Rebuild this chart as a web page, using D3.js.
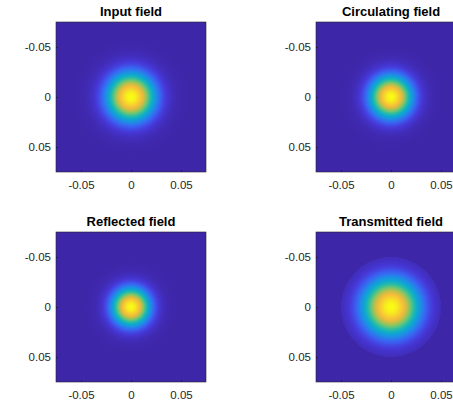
<!DOCTYPE html>
<html lang="en">

<head>
    <meta charset="UTF-8">
    <title>Fields</title>
    <style>
        body {
            margin: 0;
            background: #fff;
        }

        .tick text {
            font: 11.5px "Liberation Sans", Arial, sans-serif;
            fill: #262626;
        }

        .title {
            font: bold 13px "Liberation Sans", Arial, sans-serif;
            fill: #000;
            text-anchor: middle;
        }
    </style>
</head>

<body>
    <script src="https://d3js.org/d3.v7.min.js"></script>
    <script>
        // panel data (beam waist and aperture radius)
        const panelTitles = ["Input field", "Circulating field", "Reflected field", "Transmitted field"];
        const beamWaist = [0.033, 0.029, 0.026, 0.039];
        const apertureRadius = [0.1, 0.1, 0.1, 0.05];
        const axisExtent = [-0.075, 0.075];
        const tickValues = [-0.05, 0, 0.05];
        const tickLabels = ["-0.05", "0", "0.05"];

        // parula colormap stops
        const parulaStops = [0, 0.1, 0.2, 0.3, 0.4, 0.5, 0.6, 0.7, 0.8, 0.9, 1];
        const parulaColors = ["#3e26a8", "#4638d8", "#3a62f2", "#1f8ce6", "#0ca9cf", "#27bca6",
            "#6cc575", "#b9c04a", "#f4ba3b", "#f5d62b", "#f9fb15"];

        const width = 453;
        const height = 400;
        const size = 150;
        const grid = 150;
        const origins = [[56, 22], [316, 22], [56, 232], [316, 232]];

        const color = d3.scaleLinear().domain(parulaStops).range(parulaColors).clamp(true);

        const svg = d3.select("body").append("svg")
            .attr("width", width)
            .attr("height", height);

        function fieldImage(w, a) {
            const canvas = document.createElement("canvas");
            canvas.width = grid;
            canvas.height = grid;
            const ctx = canvas.getContext("2d");
            const img = ctx.createImageData(grid, grid);
            const cell = d3.scaleLinear().domain([0, grid - 1]).range([axisExtent[0] + 0.0005, axisExtent[1] - 0.0005]);
            for (let j = 0; j < grid; j++) {
                for (let i = 0; i < grid; i++) {
                    const x = cell(i), y = cell(j);
                    const r2 = x * x + y * y;
                    const v = r2 <= a * a ? Math.exp(-2 * r2 / (w * w)) : 0;
                    const c = d3.rgb(color(v));
                    const k = (j * grid + i) * 4;
                    img.data[k] = c.r;
                    img.data[k + 1] = c.g;
                    img.data[k + 2] = c.b;
                    img.data[k + 3] = 255;
                }
            }
            ctx.putImageData(img, 0, 0);
            return canvas.toDataURL();
        }

        panelTitles.forEach((title, p) => {
            const [ox, oy] = origins[p];
            const x = d3.scaleLinear().domain(axisExtent).range([0, size]);
            const y = d3.scaleLinear().domain(axisExtent).range([0, size]);

            const g = svg.append("g").attr("transform", `translate(${ox},${oy})`);

            g.append("image")
                .attr("href", fieldImage(beamWaist[p], apertureRadius[p]))
                .attr("x", 0)
                .attr("y", 0)
                .attr("width", size)
                .attr("height", size)
                .attr("preserveAspectRatio", "none");

            g.append("g")
                .attr("transform", `translate(0,${size})`)
                .call(d3.axisBottom(x).tickValues(tickValues).tickFormat((d, i) => tickLabels[i])
                    .tickSizeInner(-2).tickSizeOuter(0).tickPadding(9))
                .call(s => s.select(".domain").remove())
                .call(s => s.selectAll("line").attr("stroke", "#262626"));

            g.append("g")
                .call(d3.axisLeft(y).tickValues(tickValues).tickFormat((d, i) => tickLabels[i])
                    .tickSizeInner(-2).tickSizeOuter(0).tickPadding(5))
                .call(s => s.select(".domain").remove())
                .call(s => s.selectAll("line").attr("stroke", "#262626"));

            g.append("rect")
                .attr("x", 0)
                .attr("y", 0)
                .attr("width", size)
                .attr("height", size)
                .attr("fill", "none")
                .attr("stroke", "#262626")
                .attr("stroke-width", 0.6);

            g.append("text")
                .attr("class", "title")
                .attr("x", size / 2)
                .attr("y", -6)
                .text(title);
        });
    </script>
</body>

</html>
